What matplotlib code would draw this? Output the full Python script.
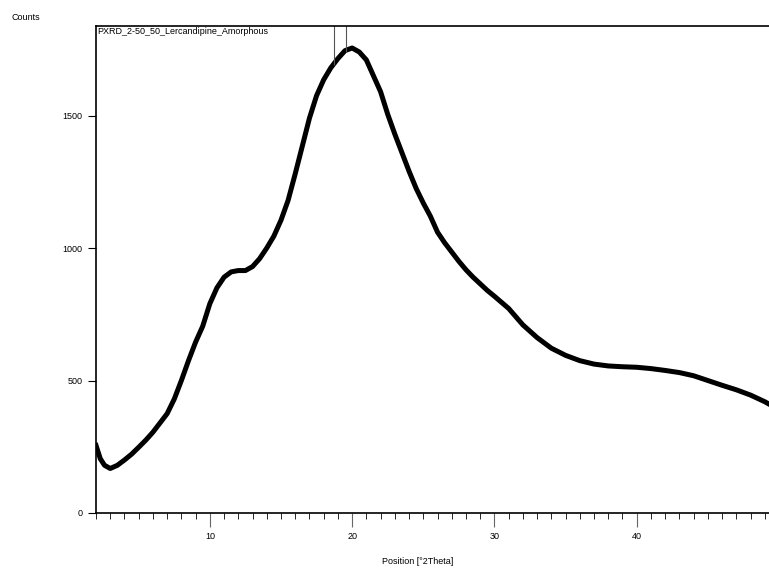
import matplotlib.pyplot as plt
from matplotlib.ticker import MultipleLocator

# 2theta positions and counts (smoothed through the noise band)
theta = [2.0, 2.3, 2.6, 3.0, 3.5, 4.0, 4.5, 5.0, 5.5, 6.0, 6.5, 7.0, 7.5, 8.0,
         8.5, 9.0, 9.5, 10.0, 10.5, 11.0, 11.5, 12.0, 12.5, 13.0, 13.5, 14.0,
         14.5, 15.0, 15.5, 16.0, 16.5, 17.0, 17.5, 18.0, 18.5, 19.0, 19.5,
         20.0, 20.5, 21.0, 21.5, 22.0, 22.5, 23.0, 23.5, 24.0, 24.5, 25.0,
         25.5, 26.0, 26.5, 27.0, 27.5, 28.0, 28.5, 29.0, 29.5, 30.0, 31.0,
         32.0, 33.0, 34.0, 35.0, 36.0, 37.0, 38.0, 39.0, 40.0, 41.0, 42.0,
         43.0, 44.0, 45.0, 46.0, 47.0, 48.0, 49.0, 49.5]
counts = [255, 205, 180, 168, 180, 200, 222, 248, 275, 305, 340, 375, 430, 500,
          575, 645, 705, 790, 850, 890, 910, 915, 915, 930, 960, 1000,
          1045, 1105, 1180, 1280, 1385, 1490, 1575, 1635, 1680, 1715, 1745,
          1755, 1740, 1710, 1650, 1590, 1505, 1430, 1360, 1290, 1225, 1170,
          1120, 1060, 1020, 985, 950, 918, 890, 865, 840, 818, 772,
          710, 662, 622, 595, 575, 562, 555, 552, 550, 545, 538,
          530, 518, 500, 482, 465, 445, 420, 405]

# the two single-point spikes near the top of the hump
spike_pos = [18.75, 19.6]
spike_base = [1690, 1740]
spike_top = [1900, 1900]

xticks = [10, 20, 30, 40]
yticks = [0, 500, 1000, 1500]

fig = plt.figure(figsize=(7.69, 5.68), dpi=100)
ax = fig.add_axes([96 / 769, 55 / 568, 683 / 769, 487 / 568])

ax.plot(theta, counts, color='black', lw=3.6)
ax.vlines(spike_pos, spike_base, spike_top, color='#555555', lw=0.8)

ax.set_xlim(2, 50)
ax.set_ylim(0, 1838)
ax.set_xticks(xticks)
ax.xaxis.set_minor_locator(MultipleLocator(1))
ax.set_yticks(yticks)

for s in ax.spines.values():
    s.set_linewidth(1.2)
ax.tick_params(axis='both', which='major', labelsize=6.5, width=0.8, direction='out')
ax.tick_params(axis='x', which='major', length=10, pad=4, color='#666666')
ax.tick_params(axis='x', which='minor', length=4, width=0.6)
ax.tick_params(axis='y', which='major', length=6)

ax.text(0.002, 0.997, 'PXRD_2-50_50_Lercandipine_Amorphous', transform=ax.transAxes,
        ha='left', va='top', fontsize=6.5, family='Liberation Sans')
fig.text(12 / 769, 1 - 18 / 568, 'Counts', fontsize=6.5, va='center', family='Liberation Sans')
fig.text(418 / 769, 1 - 561 / 568, 'Position [°2Theta]', fontsize=6.5, ha='center',
         va='center', family='Liberation Sans')
for lab in ax.get_xticklabels() + ax.get_yticklabels():
    lab.set_family('Liberation Sans')

fig.savefig('out.png', dpi=100)
